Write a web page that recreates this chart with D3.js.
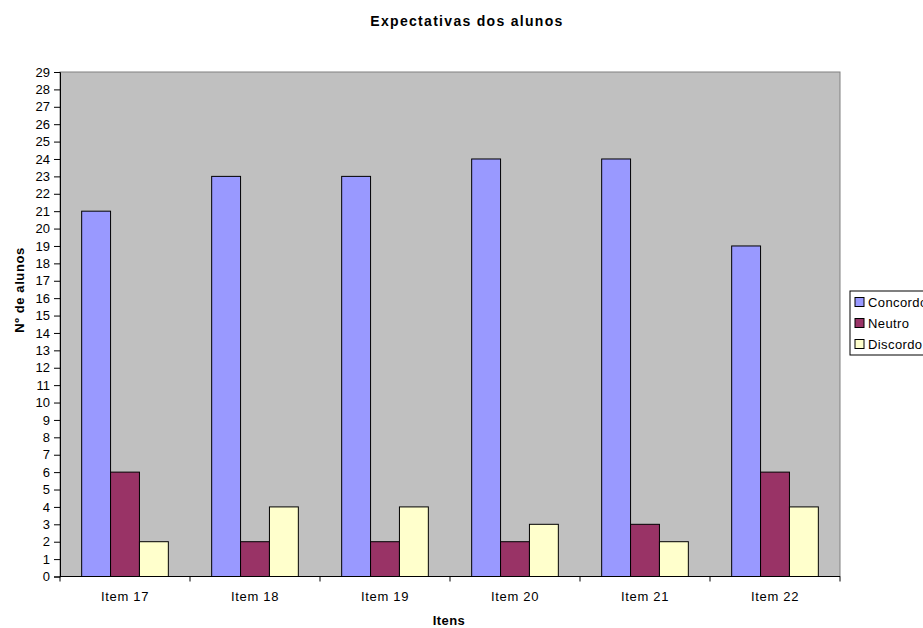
<!DOCTYPE html>
<html>
<head>
<meta charset="utf-8">
<script src="https://cdn.jsdelivr.net/npm/d3@7"></script>
<style>
  html, body { margin: 0; padding: 0; background: #fff; }
  svg { display: block; font-family: "Liberation Sans", Arial, sans-serif; }
</style>
</head>
<body>
<svg id="chart" width="923" height="628"></svg>
<script>
// Survey data: students' expectations per item
const categories = ["Item 17", "Item 18", "Item 19", "Item 20", "Item 21", "Item 22"];
const seriesNames = ["Concordo", "Neutro", "Discordo"];
const concordo = [21, 23, 23, 24, 24, 19];
const neutro = [6, 2, 2, 2, 3, 6];
const discordo = [2, 4, 4, 3, 2, 4];
const yTicks = d3.range(0, 30);

const seriesValues = [concordo, neutro, discordo];
const colors = ["#9999FF", "#993366", "#FFFFCC"];
const font = "'Liberation Sans', Arial, sans-serif";

const svg = d3.select("#chart");
const plot = { left: 60, right: 840, top: 72, bottom: 576.5 };

const x0 = d3.scaleBand().domain(categories).range([plot.left, plot.right]).paddingInner(0).paddingOuter(0);
const x1 = d3.scaleBand().domain(seriesNames).range([0, x0.bandwidth()])
  .paddingInner(0).paddingOuter(0.75);
const y = d3.scaleLinear().domain([0, 29]).range([plot.bottom, plot.top]);

// Plot background
svg.append("rect")
  .attr("x", plot.left).attr("y", plot.top)
  .attr("width", plot.right - plot.left).attr("height", plot.bottom - plot.top)
  .attr("fill", "#C0C0C0").attr("stroke", "#808080").attr("stroke-width", 1);

// Bars
const groups = svg.append("g").selectAll("g")
  .data(categories).join("g")
  .attr("transform", d => `translate(${x0(d)},0)`);

groups.selectAll("rect")
  .data((d, i) => seriesNames.map((s, j) => ({ s, j, v: seriesValues[j][i] })))
  .join("rect")
  .attr("x", d => x1(d.s))
  .attr("y", d => y(d.v))
  .attr("width", x1.bandwidth())
  .attr("height", d => y(0) - y(d.v))
  .attr("fill", d => colors[d.j])
  .attr("stroke", "#000").attr("stroke-width", 1);

// Y axis
const yAxis = svg.append("g")
  .attr("transform", `translate(${plot.left},0)`)
  .call(d3.axisLeft(y).tickValues(yTicks).tickSize(6).tickPadding(4).tickFormat(d3.format("d")));
yAxis.select(".domain").attr("stroke", "#000");
yAxis.selectAll("text").attr("font-size", 13).attr("fill", "#000")
  .attr("font-family", font);

// X axis
const xAxis = svg.append("g")
  .attr("transform", `translate(0,${plot.bottom})`)
  .call(d3.axisBottom(x0).tickSize(0).tickPadding(15));
xAxis.select(".domain").attr("stroke", "#000").attr("d", `M${plot.left},0H${plot.right}`);
xAxis.selectAll("text").attr("font-size", 13).attr("fill", "#000")
  .attr("letter-spacing", 0.7)
  .attr("font-family", font);
// Category boundary ticks
const boundaries = categories.map(c => x0(c)).concat([plot.right]);
xAxis.selectAll(".bound").data(boundaries).join("line")
  .attr("class", "bound")
  .attr("x1", d => d).attr("x2", d => d)
  .attr("y1", 0).attr("y2", 5)
  .attr("stroke", "#000");

// Titles
svg.append("text")
  .attr("x", 467).attr("y", 26)
  .attr("text-anchor", "middle")
  .attr("font-size", 14).attr("font-weight", "bold")
  .attr("letter-spacing", 1.3)
  .text("Expectativas dos alunos");

svg.append("text")
  .attr("x", 449).attr("y", 625)
  .attr("text-anchor", "middle")
  .attr("font-size", 13).attr("font-weight", "bold")
  .attr("letter-spacing", 0.4)
  .text("Itens");

svg.append("text")
  .attr("transform", "translate(24,290) rotate(-90)")
  .attr("text-anchor", "middle")
  .attr("font-size", 13).attr("font-weight", "bold")
  .attr("letter-spacing", 0.6)
  .text("Nº de alunos");

// Legend (box runs past the right edge of the chart area)
const legend = svg.append("g").attr("transform", "translate(850,291)");
legend.append("rect")
  .attr("x", 0).attr("y", 0).attr("width", 100).attr("height", 64)
  .attr("fill", "#fff").attr("stroke", "#000");
const items = legend.selectAll(".item").data(seriesNames).join("g")
  .attr("class", "item")
  .attr("transform", (d, i) => `translate(5,${11 + i * 21})`);
items.append("rect")
  .attr("x", 0).attr("y", -4.5).attr("width", 9).attr("height", 9)
  .attr("fill", (d, i) => colors[i]).attr("stroke", "#000");
items.append("text")
  .attr("x", 13).attr("y", 0).attr("dy", "0.36em")
  .attr("font-size", 13).attr("letter-spacing", 0.4)
  .text(d => d);
</script>
</body>
</html>
